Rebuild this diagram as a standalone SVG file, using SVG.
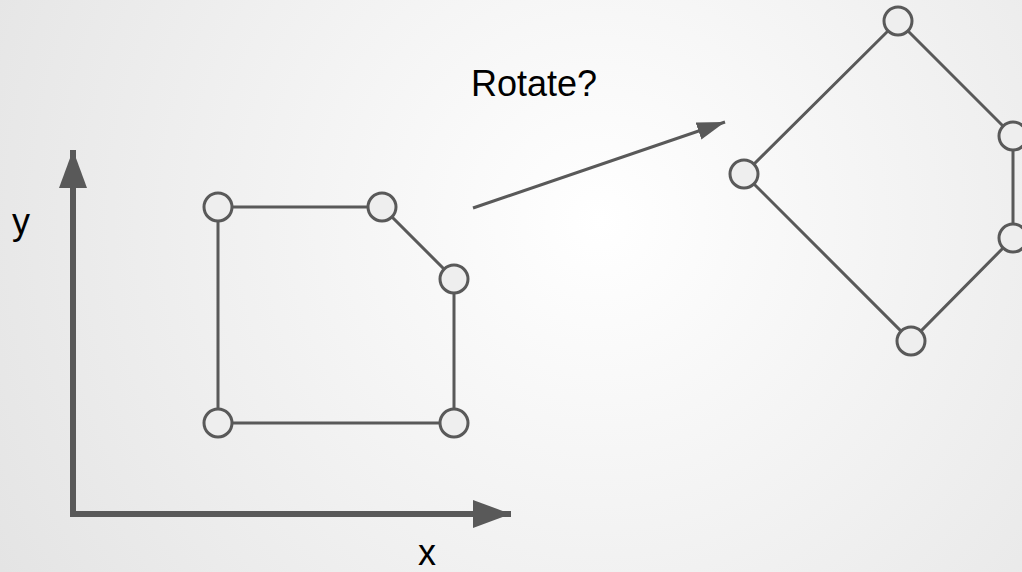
<svg xmlns="http://www.w3.org/2000/svg" width="1022" height="572" viewBox="0 0 1022 572">
  <defs>
    <radialGradient id="bg" cx="600" cy="220" r="720" gradientUnits="userSpaceOnUse">
      <stop offset="0" stop-color="#ffffff"/>
      <stop offset="1" stop-color="#e3e3e3"/>
    </radialGradient>
    <marker id="bigArrow" markerUnits="userSpaceOnUse" markerWidth="40" markerHeight="30" refX="38" refY="14" orient="auto">
      <path d="M0,0 L38,14 L0,28 Z" fill="#595959"/>
    </marker>
    <marker id="smallArrow" markerUnits="userSpaceOnUse" markerWidth="30" markerHeight="20" refX="28" refY="9" orient="auto">
      <path d="M0,0 L28,9 L0,18 Z" fill="#595959"/>
    </marker>
  </defs>
  <style>
    .edge { stroke: #595959; stroke-width: 3; fill: none; }
    .axis { stroke: #595959; stroke-width: 6; fill: none; }
    .node { fill: #eeeeee; stroke: #595959; stroke-width: 3; }
    .label { font-family: "Liberation Sans", Arial, sans-serif; font-size: 36px; fill: #000000; }
  </style>
  <rect x="0" y="0" width="1022" height="572" fill="url(#bg)"/>

  <g id="connectors">
    <line class="axis" x1="73" y1="517" x2="73" y2="150" marker-end="url(#bigArrow)"/>
    <line class="axis" x1="70" y1="514" x2="511" y2="514" marker-end="url(#bigArrow)"/>
    <line class="edge" x1="473" y1="208" x2="725" y2="122" marker-end="url(#smallArrow)"/>
    <polyline class="edge" points="218,423 218,207 382,207 454,279 454,423 218,423"/>
    <polygon class="edge" points="898,21 1013,136 1013,238 911,341 744,174"/>
  </g>

  <g id="node-a1"><circle class="node" cx="218" cy="207" r="14"/></g>
  <g id="node-a2"><circle class="node" cx="382" cy="207" r="14"/></g>
  <g id="node-a3"><circle class="node" cx="454" cy="279" r="14"/></g>
  <g id="node-a4"><circle class="node" cx="454" cy="423" r="14"/></g>
  <g id="node-a5"><circle class="node" cx="218" cy="423" r="14"/></g>

  <g id="node-b1"><circle class="node" cx="898" cy="21" r="14"/></g>
  <g id="node-b2"><circle class="node" cx="1013" cy="136" r="14"/></g>
  <g id="node-b3"><circle class="node" cx="1013" cy="238" r="14"/></g>
  <g id="node-b4"><circle class="node" cx="911" cy="341" r="14"/></g>
  <g id="node-b5"><circle class="node" cx="744" cy="174" r="14"/></g>

  <g id="label-rotate"><text class="label" x="471" y="96">Rotate?</text></g>
  <g id="label-y"><text class="label" x="12" y="234">y</text></g>
  <g id="label-x"><text class="label" x="418" y="565">x</text></g>
</svg>
